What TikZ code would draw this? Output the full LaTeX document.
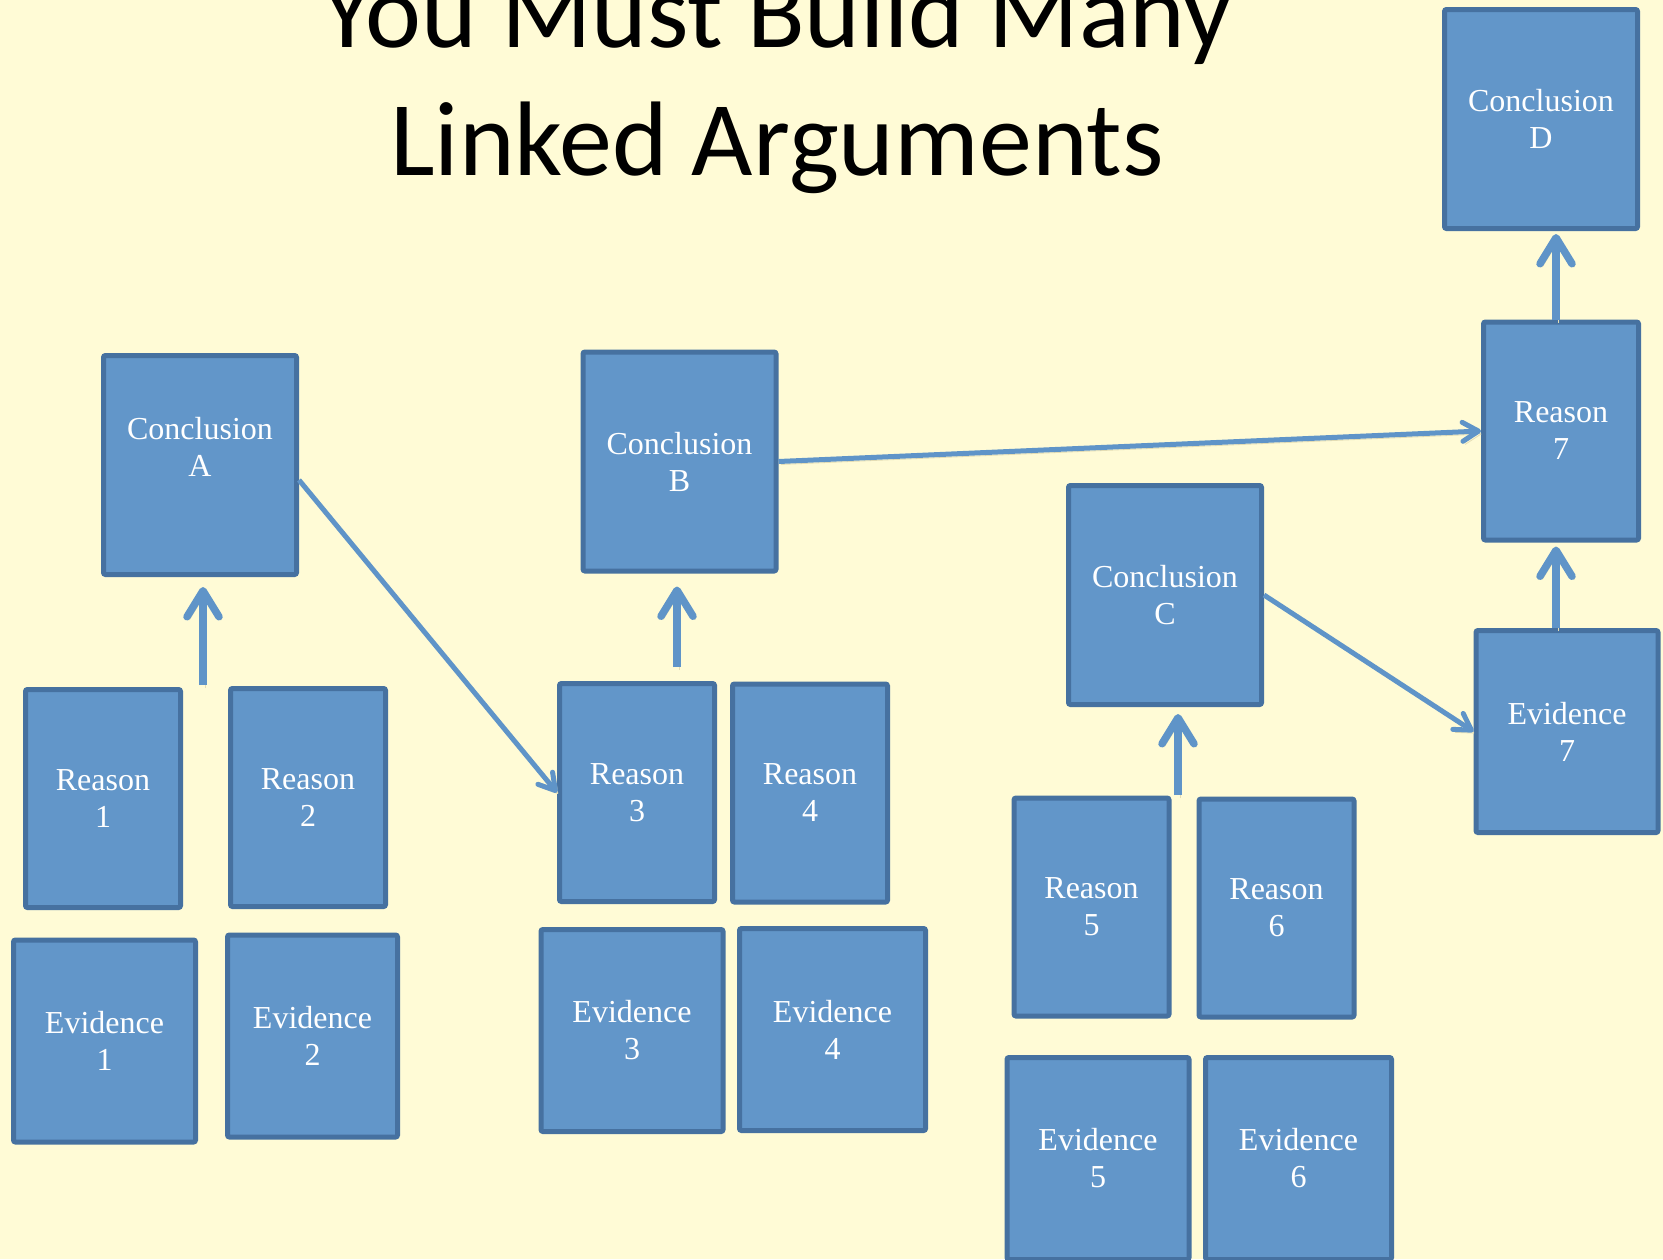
\documentclass[tikz,border=0pt]{standalone}
\usepackage{fontspec}
\setmainfont{Liberation Serif}
\newfontfamily\titlefont{Carlito}
\usetikzlibrary{arrows.meta,positioning}
\definecolor{slidebg}{RGB}{255,251,214}
\definecolor{boxfill}{RGB}{98,150,201}
\definecolor{boxline}{RGB}{70,113,160}
\definecolor{linkcol}{RGB}{95,148,200}
\definecolor{linkshade}{RGB}{228,221,180}

\begin{document}
\begin{tikzpicture}[x=0.5pt,y=-0.5pt,
    argbox/.style={draw=boxline,fill=boxfill,line width=2.5pt,rounded corners=1pt,
      text=white,align=center,inner sep=0pt,font=\fontsize{16}{18.5}\selectfont},
    con/.style={argbox,minimum width=96.5pt,minimum height=109.5pt},
    rsn/.style={argbox,minimum width=77.5pt,minimum height=109pt},
    evd/.style={argbox,minimum width=91pt,minimum height=101pt},
    shade/.style={preaction={draw=linkshade,transform canvas={shift={(1.2pt,-1.5pt)}}}},
    uparrow/.style={shade,draw=linkcol,line width=3.75pt,-{Straight Barb[length=13pt,width=16pt,round]}},
    link/.style={shade,draw=linkcol,line width=2.5pt,-{Straight Barb[length=8pt,width=9.5pt,round]}},
    heading/.style={font=\titlefont\fontsize{53}{64}\selectfont,anchor=base}]
    \path[use as bounding box,fill=slidebg] (0,0) rectangle (1663,1259);

    % title
    \node[heading] (title1) at (777,47) {You Must Build Many};
    \node[heading] (title2) at (777,175) {Linked Arguments};

    % conclusions
    \node[con] (conA) at (200,465) {Conclusion\\A\\\mbox{}};
    \node[con] (conB) at (679.5,461.5) {Conclusion\\B};
    \node[con] (conC) at (1165,595) {Conclusion\\C};
    \node[con] (conD) at (1541,119) {Conclusion\\D};

    % reasons
    \node[rsn] (rsn1) at (103,798.5) {Reason\\1};
    \node[rsn] (rsn2) at (308,797.5) {Reason\\2};
    \node[rsn] (rsn3) at (637,792.5) {Reason\\3};
    \node[rsn] (rsn4) at (810,793) {Reason\\4};
    \node[rsn] (rsn5) at (1091.5,907) {Reason\\5};
    \node[rsn] (rsn6) at (1276.5,908) {Reason\\6};
    \node[rsn] (rsn7) at (1561,431) {Reason\\7};

    % evidence
    \node[evd] (evd1) at (104.5,1041) {Evidence\\1};
    \node[evd,minimum width=85pt] (evd2) at (312.5,1036) {Evidence\\2};
    \node[evd] (evd3) at (632,1030.5) {Evidence\\3};
    \node[evd,minimum width=93pt] (evd4) at (832.5,1029.5) {Evidence\\4};
    \node[evd] (evd5) at (1098,1158.5) {Evidence\\5};
    \node[evd,minimum width=93pt] (evd6) at (1298.5,1158.5) {Evidence\\6};
    \node[evd] (evd7) at (1567,731.5) {Evidence\\7};

    % stems of the up arrows
    \coordinate (stemA) at (203,685);
    \coordinate (stemB) at (677,667);
    \coordinate (stemC) at (1178,795);
    \coordinate (stem7) at (1556,0);

    \path
    (stemA) edge[uparrow,shorten >=5pt] (stemA |- conA.south)
    (stemB) edge[uparrow,shorten >=6.5pt] (stemB |- conB.south)
    (stemC) edge[uparrow,shorten >=3.5pt] (stemC |- conC.south)
    (evd7.north -| stem7) edge[uparrow,shorten >=2pt] (rsn7.south -| stem7)
    (rsn7.north -| stem7) edge[uparrow,shorten >=1.5pt] (conD.south -| stem7);

    \path
    ([yshift=-7.5pt]conA.east) edge[link] (rsn3.west)
    (conB.east) edge[link] (rsn7.west)
    (conC.east) edge[link] (evd7.west);
\end{tikzpicture}
\end{document}
